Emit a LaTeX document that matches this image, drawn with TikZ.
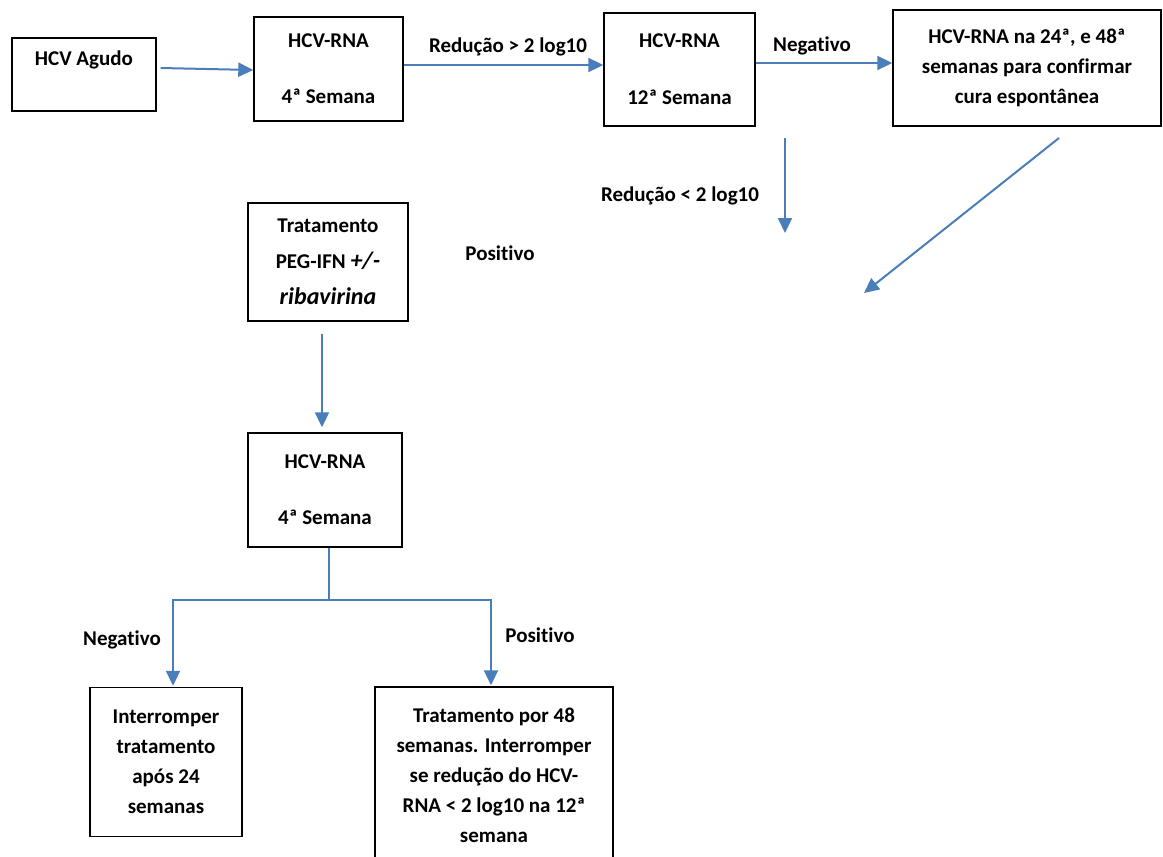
\documentclass[tikz,border=0pt]{standalone}
\usepackage{fontspec}
\setmainfont{Carlito}[Ligatures=NoCommon]
\usepackage{xcolor}
\usepackage{tikz}
\usetikzlibrary{arrows.meta}
\definecolor{flowblue}{RGB}{74,126,187}

\begin{document}
\begin{tikzpicture}[x=0.5pt,y=-0.5pt,font=\bfseries\fontsize{10.5}{15}\selectfont,
    box/.style={draw=black,line width=0.7pt,align=center,inner sep=0pt},
    arrow/.style={color=flowblue,line width=1pt,-{Triangle[length=7.5pt,width=7pt]}},
    link/.style={color=flowblue,line width=1pt}]
    \useasboundingbox (0,0) rectangle (1163,857);

    \node[box,name=agudo,minimum width=72pt,minimum height=36.5pt] at (84,74.5) {HCV Agudo\\[-3.5pt]\strut};
    \node[box,name=rna4,minimum width=74.5pt,minimum height=52pt] at (328.5,69) {HCV-RNA\\[13pt]4ª Semana};
    \node[box,name=rna12,minimum width=75.5pt,minimum height=56.5pt] at (679.5,69.5) {HCV-RNA\\[13.5pt]12ª Semana};
    \node[box,name=cura,minimum width=134pt,minimum height=58pt] at (1027,68) {HCV-RNA na 24ª, e 48ª\\semanas para confirmar\\cura espontânea};

    \node[box,name=trat,minimum width=80pt,minimum height=59pt,font=\bfseries\fontsize{10.5}{18}\selectfont] at (328,262)
        {Tratamento\\PEG-IFN {\itshape\fontsize{12}{18}\selectfont +/-}\\{\itshape\fontsize{12}{18}\selectfont ribavirina}};
    \node[box,name=rna4b,minimum width=77pt,minimum height=57pt] at (325,490) {HCV-RNA\\[13pt]4ª Semana};

    \node[box,name=interr,minimum width=76pt,minimum height=74.5pt] at (166,762) {Interromper\\tratamento\\após 24\\semanas};
    \node[box,name=trat48,minimum width=119pt,minimum height=88pt] at (494,775) {Tratamento por 48\\semanas. Interromper\\se redução do HCV-\\RNA < 2 log10 na 12ª\\semana};

    % labels
    \node[name=redmaior] at (508,47) {Redução > 2 log10};
    \node[name=negtop] at (812,46) {Negativo};
    \node[name=redmenor] at (680,196) {Redução < 2 log10};
    \node[name=postop] at (500,253) {Positivo};
    \node[name=negbot] at (122,640) {Negativo};
    \node[name=posbot] at (540,635) {Positivo};

    % free ends
    \coordinate (downA) at (785,138);
    \coordinate (downB) at (785,233);
    \coordinate (diagA) at (1059,138);
    \coordinate (diagB) at (864,293);
    \coordinate (split) at (329,600);

    \draw[arrow] ([xshift=2pt,yshift=3.25pt]agudo.east) -- ([yshift=-0.5pt]rna4.west);
    \draw[arrow] ([yshift=2pt]rna4.east) -- ([yshift=2.25pt]rna12.west);
    \draw[arrow] ([yshift=3.25pt]rna12.east) -- ([yshift=2.5pt]cura.west);
    \draw[arrow] (downA) -- (downB);
    \draw[arrow] (diagA) -- (diagB);
    \draw[arrow] ([xshift=-3pt,yshift=-6pt]trat.south) -- ([xshift=-1.5pt,yshift=2.5pt]rna4b.north);

    \draw[link] ([xshift=2pt]rna4b.south) -- (split);
    \draw[arrow] (split) -| ([xshift=3.5pt,yshift=0.5pt]interr.north);
    \draw[arrow] (split) -| ([xshift=-1.5pt,yshift=0.5pt]trat48.north);
\end{tikzpicture}
\end{document}
